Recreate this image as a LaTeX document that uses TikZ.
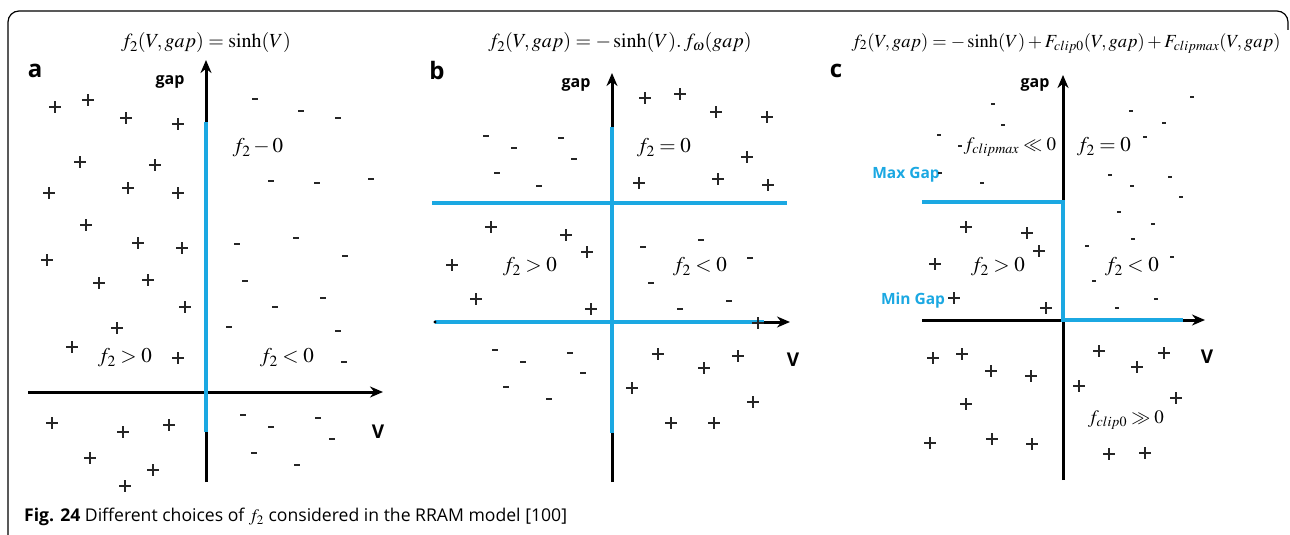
\documentclass[tikz,border=0pt]{standalone}
\usepackage{mathptmx}
\usepackage[no-math]{fontspec}
\setmainfont{Open Sans}
\usetikzlibrary{arrows.meta}
\definecolor{cblue}{RGB}{27,168,226}
\begin{document}
\begin{tikzpicture}[x=1pt,y=-1pt,
  axis/.style={line width=3pt,-{Stealth[length=13pt,width=11pt]}},
  axline/.style={line width=3pt},
  bluel/.style={line width=3.6pt,cblue},
  pmark/.pic={\draw[line width=1.1pt,black!85] (-6,0)--(6,0) (0,-6)--(0,6);},
  mmark/.pic={\fill[black!85] (-2.6,-1.4) rectangle (2.6,1.4);},
  dmark/.pic={\fill[black!85] (-1.6,-1.4) rectangle (1.6,1.4);},
  plab/.style={font=\bfseries\fontsize{24}{26}\selectfont},
  axlab/.style={font=\bfseries\fontsize{16}{18}\selectfont},
  reg/.style={font=\fontsize{21}{24}\selectfont},
  regs/.style={font=\fontsize{19}{22}\selectfont},
  frm/.style={font=\fontsize{20}{24}\selectfont},
  gapl/.style={text=cblue,font=\bfseries\fontsize{15.5}{17}\selectfont}
]
\useasboundingbox (0,0) rectangle (1290,535);
% frame
\draw[line width=1.2pt,rounded corners=11pt] (8,545) -- (8,11) -- (1288,11) -- (1288,30);
% caption
\node[anchor=west,font=\fontsize{17.6}{20}\selectfont,inner sep=0pt] (cap) at (24,517)
  {\textbf{Fig. 24} Different choices of $f_2$ considered in the RRAM model [100]};

% ================= panel a
\node[frm] (fa) at (206,43) {$f_2(V,gap)=\sinh(V)$};
\node[plab] (la) at (35,71) {a};
\node[axlab] (ga) at (170,82) {gap};
\node[axlab,font=\bfseries\fontsize{19}{21}\selectfont] (va) at (378,432) {V};
\draw[axis] (28,392) -- (383,392);
\draw[axline] (206,482) -- (206,430);
\draw[axis] (206,124) -- (206,60);
\draw[bluel] (206,122) -- (206,432);
\node[reg] (ra1) at (258,148) {$f_2-0$};
\node[reg] (ra2) at (125,358) {$f_2>0$};
\node[reg] (ra3) at (287,358) {$f_2<0$};
\foreach \p in {(55,107),(88,100),(126,118),(178,124),(80,162),(155,165),(49,193),(128,188),(178,193),(86,225),(138,243),(182,248),(47,260),(99,283),(148,280),(185,307),(117,328),(72,347),(178,358),(52,423),(123,432),(169,425),(90,458),(153,470),(125,486)}
  \pic at \p {pmark};
\foreach \p in {(255,99),(301,111),(338,118),(271,181),(317,183),(371,179),(237,244),(296,238),(345,256),(245,281),(323,298),(275,307),(229,327),(338,331),(344,362),(243,415),(271,427),(318,418),(332,439),(254,453),(297,465)}
  \pic at \p {mmark};

% ================= panel b
\node[frm] (fb) at (620,43) {$f_2(V,gap)=-\sinh(V).\,f_\omega(gap)$};
\node[plab] (lb) at (437,71) {b};
\node[axlab] (gb) at (576,85) {gap};
\node[axlab,font=\bfseries\fontsize{19}{21}\selectfont] (vb) at (793,360) {V};
\draw[axline] (612,482) -- (612,430);
\draw[axis] (612,129) -- (612,73);
\draw[axis] (740,322) -- (790,322);
\draw[bluel] (612,127) -- (612,433);
\draw[bluel] (432,203) -- (787,203);
\draw[bluel] (435,322) -- (764,322);
\fill (435,322) circle (1.6);
\node[reg] (rb1) at (664,148) {$f_2=0$};
\node[reg] (rb2) at (530,267) {$f_2>0$};
\node[reg] (rb3) at (700,267) {$f_2<0$};
\foreach \p in {(645,98),(680,94),(716,112),(767,117),(747,157),(639,183),(718,179),(768,185),(491,227),(566,235),(587,252),(452,265),(476,299),(591,309),(758,323),(658,354),(704,368),(738,356),(632,388),(753,402),(671,423),(714,423)}
  \pic at \p {pmark};
\foreach \p in {(486,136),(514,148),(561,138),(574,159),(497,173),(539,186),(643,247),(701,240),(750,258),(651,283),(680,309),(729,301),(495,350),(570,353),(523,362),(583,373),(506,387),(549,399)}
  \pic at \p {mmark};

% ================= panel c
\node[font=\fontsize{18.5}{22}\selectfont] (fc) at (1066,43) {$f_2(V,gap)=-\sinh(V)+F_{clip0}(V,gap)+F_{clipmax}(V,gap)$};
\node[plab] (lc) at (836,71) {c};
\node[axlab] (gc) at (1035,85) {gap};
\node[axlab,font=\bfseries\fontsize{19}{21}\selectfont] (vc) at (1207,357) {V};
\draw[axline] (1063,480) -- (1063,318);
\draw[axis] (1063,204) -- (1063,75);
\draw[axline] (922,320) -- (1065,320);
\draw[axis] (1170,320) -- (1205,320);
\draw[bluel] (922,202) -- (1063,202) -- (1063,320) -- (1183,320);
\node[gapl] (mx) at (906,175) {Max Gap};
\node[gapl] (mn) at (913,300) {Min Gap};
\node[regs] (rc1) at (1010,147) {$f_{clipmax}\ll 0$};
\node[reg] (rc2) at (1104,147) {$f_2=0$};
\node[reg] (rc3) at (998,267) {$f_2>0$};
\node[reg] (rc4) at (1132,267) {$f_2<0$};
\node[regs] (rc5) at (1126,420) {$f_{clip0}\gg 0$};
\foreach \p in {(966,227),(1027,233),(1039,251),(935,264),(954,298),(1046,308),(933,358),(962,354),(991,371),(1031,376),(966,404),(930,443),(992,439),(1032,444),(1079,386),(1099,351),(1137,367),(1164,353),(1176,398),(1109,454),(1145,453)}
  \pic at \p {pmark};
\foreach \p in {(993,104),(1003,125),(939,135),(960,146),(1131,111),(1192,97),(1164,123),(1145,137),(940,173),(982,183),(1110,175),(1132,186),(1170,177),(1181,197),(1119,212),(1153,224),(1133,239),(1087,246),(1172,257),(1094,281),(1117,308),(1156,299)}
  \pic at \p {dmark};
\end{tikzpicture}
\end{document}
